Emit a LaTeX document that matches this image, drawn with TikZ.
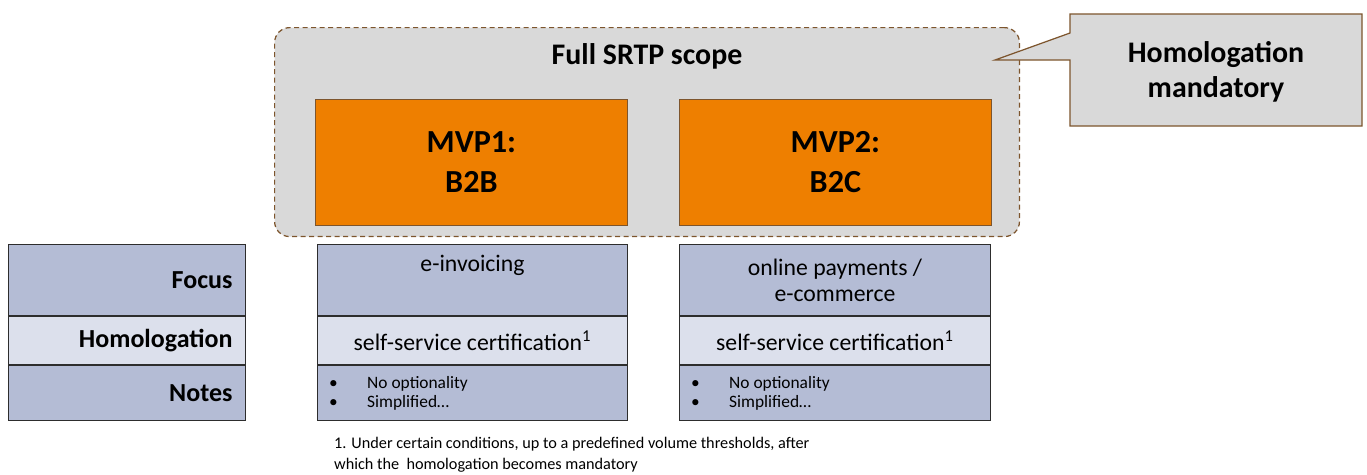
\documentclass[tikz,border=0pt]{standalone}
\usepackage{fontspec}
\setmainfont{Carlito}
\usetikzlibrary{positioning}

\definecolor{scopegray}{RGB}{217,217,217}
\definecolor{scopebrown}{RGB}{125,85,45}
\definecolor{mvporange}{RGB}{238,127,0}
\definecolor{rowdark}{RGB}{180,188,213}
\definecolor{rowlight}{RGB}{220,224,236}
\definecolor{rowline}{RGB}{45,45,45}

\newcommand{\notebullet}{\makebox[0.76cm][l]{•}}

\tikzset{
	scopebox/.style={draw=scopebrown, fill=scopegray, line width=0.7pt, dash pattern=on 0.1cm off 0.07cm, rounded corners=0.3cm, minimum width=14.9cm, minimum height=4.18cm, anchor=north west},
	mvpbox/.style={draw=scopebrown, fill=mvporange, line width=0.5pt, minimum width=6.24cm, minimum height=2.52cm, align=center, anchor=north west, font=\fontsize{18.3}{22.7}\selectfont\bfseries},
	calloutbox/.style={draw=scopebrown, fill=scopegray, line width=0.7pt},
	bigtext/.style={align=center, font=\fontsize{17}{20}\selectfont\bfseries},
	headcell/.style={draw=rowline, line width=0.6pt, anchor=north west, text width=4.22cm, inner xsep=0.26cm, align=right, font=\fontsize{14.8}{17}\selectfont\bfseries},
	bodycell/.style={draw=rowline, line width=0.6pt, anchor=north west, align=center, font=\fontsize{13.5}{15}\selectfont},
	notetext/.style={align=left, anchor=west, font=\fontsize{9.9}{10.8}\selectfont},
	foottext/.style={align=left, anchor=north west, font=\fontsize{9.25}{11.9}\selectfont}
}

\begin{document}
\begin{tikzpicture}[x=0.02cm, y=-0.02cm]
	\useasboundingbox (0,0) rectangle (1367,474);

	% scope frame with both MVPs
	\node[scopebox] (scope) at (274,27) {};
	\node[bigtext] (title) at (647,56) {Full SRTP scope};
	\node[mvpbox] (mvp1) at (315,99) {MVP1:\\B2B};
	\node[mvpbox] (mvp2) at (679,99) {MVP2:\\B2C};

	% callout
	\coordinate (tip) at (995,60);
	\draw[calloutbox] (1070,14) -- (1362,14) -- (1362,126) -- (1070,126) -- (1070,60) -- (tip) -- (1070,33) -- cycle;
	\node[bigtext] (hom) at (1216,72) {Homologation\\mandatory};

	% row headers
	\node[headcell, fill=rowdark, minimum height=1.42cm] (focus) at (8,244) {Focus};
	\node[headcell, fill=rowlight, minimum height=0.96cm] (homol) at (focus.south west) {Homologation};
	\node[headcell, fill=rowdark, minimum height=1.1cm] (notes) at (homol.south west) {Notes};

	% MVP1 column
	\node[bodycell, fill=rowdark, minimum width=6.2cm, minimum height=1.42cm] (foc1) at (317,244) {};
	\node[bodycell, draw=none, anchor=center] (foc1txt) at ([yshift=-0.42cm]foc1.north) {e-invoicing};
	\node[bodycell, fill=rowlight, minimum width=6.2cm, minimum height=0.96cm] (hom1) at (foc1.south west) {self-service certification\textsuperscript{1}};
	\node[bodycell, fill=rowdark, minimum width=6.2cm, minimum height=1.1cm] (not1) at (hom1.south west) {};
	\node[notetext] (not1txt) at ([xshift=0.12cm]not1.west) {\notebullet No optionality\\\notebullet Simplified…};

	% MVP2 column
	\node[bodycell, fill=rowdark, minimum width=6.22cm, minimum height=1.42cm] (foc2) at (679,244) {online payments /\\e-commerce};
	\node[bodycell, fill=rowlight, minimum width=6.22cm, minimum height=0.96cm] (hom2) at (foc2.south west) {self-service certification\textsuperscript{1}};
	\node[bodycell, fill=rowdark, minimum width=6.22cm, minimum height=1.1cm] (not2) at (hom2.south west) {};
	\node[notetext] (not2txt) at ([xshift=0.12cm]not2.west) {\notebullet No optionality\\\notebullet Simplified…};

	% footnote
	\node[foottext] (foot) at (328,431) {1. Under certain conditions, up to a predefined volume thresholds, after\\which the\ \ homologation becomes mandatory};
\end{tikzpicture}
\end{document}
